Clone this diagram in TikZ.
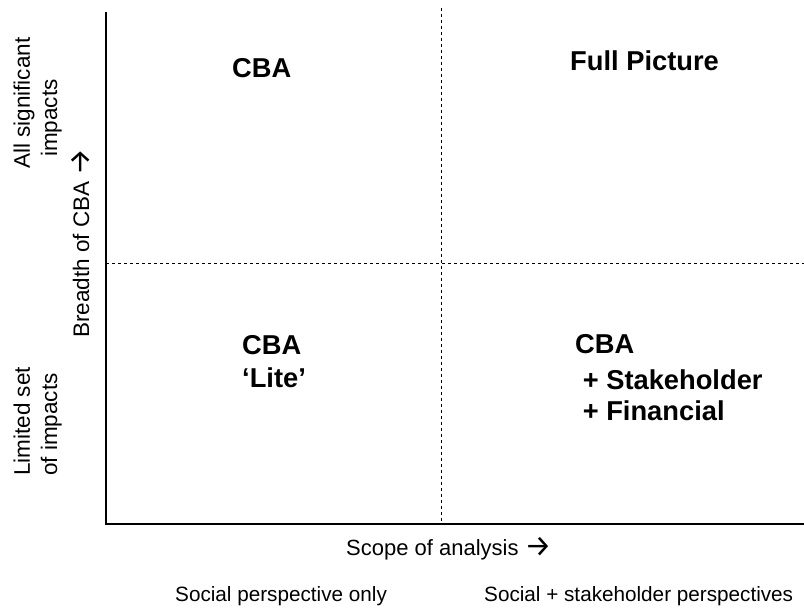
\documentclass[tikz,border=0pt]{standalone}
\usepackage{fontspec}
\setmainfont{Liberation Sans}
\newfontfamily\arrowfont{Fira Sans}
\newcommand{\rarr}{{\arrowfont\fontsize{30}{30}\selectfont\raisebox{-1.8pt}{→}}}
\begin{document}
\begin{tikzpicture}[x=1pt,y=-1pt,
  quad/.style={font=\fontsize{27.3}{31}\selectfont\bfseries, inner sep=0pt, anchor=base west},
  axlab/.style={font=\fontsize{22}{26}\selectfont, inner sep=0pt, anchor=base west},
  sidelab/.style={font=\fontsize{22.5}{26}\selectfont, inner sep=0pt, anchor=base west, rotate=90},
  botlab/.style={font=\fontsize{20.7}{24}\selectfont, inner sep=0pt, anchor=base west},
  axis/.style={line width=1.2pt},
  divider/.style={line width=0.9pt, dash pattern=on 3pt off 3pt}]
\useasboundingbox (0,0) rectangle (804,608);
% axes
\coordinate (top) at (106,12);
\coordinate (origin) at (106,524);
\coordinate (right) at (804,524);
\draw[axis] (top) -- (origin) -- (right);
% dividers
\coordinate (vtop) at (441,8);
\coordinate (vbot) at (441,524);
\coordinate (hl) at (106,263.5);
\coordinate (hr) at (804,263.5);
\draw[divider] (vtop) -- (vbot);
\draw[divider] (hl) -- (hr);
% quadrant labels
\node[quad] (tl) at (232,77) {CBA};
\node[quad] (tr) at (570,70) {Full Picture};
\node[quad] (bl1) at (242,354) {CBA};
\node[quad] (bl2) at (242,387) {‘Lite’};
\node[quad] (br1) at (575,353) {CBA};
\node[quad] (br2) at (575,389) {\ + Stakeholder};
\node[quad] (br3) at (575,420) {\ + Financial};
% axis labels
\node[axlab] (xlab) at (346,555) {Scope of analysis \rarr};
\node[botlab] (b1) at (175,601) {Social perspective only};
\node[botlab] (b2) at (484,601) {Social + stakeholder perspectives};
\node[sidelab] (s1) at (30,169) {All significant};
\node[sidelab] (s2) at (57,157) {impacts};
\node[sidelab] (s3) at (89,338) {Breadth of CBA \rarr};
\node[sidelab] (s4) at (30,476) {Limited set};
\node[sidelab] (s5) at (57,476) {of impacts};
\end{tikzpicture}
\end{document}
